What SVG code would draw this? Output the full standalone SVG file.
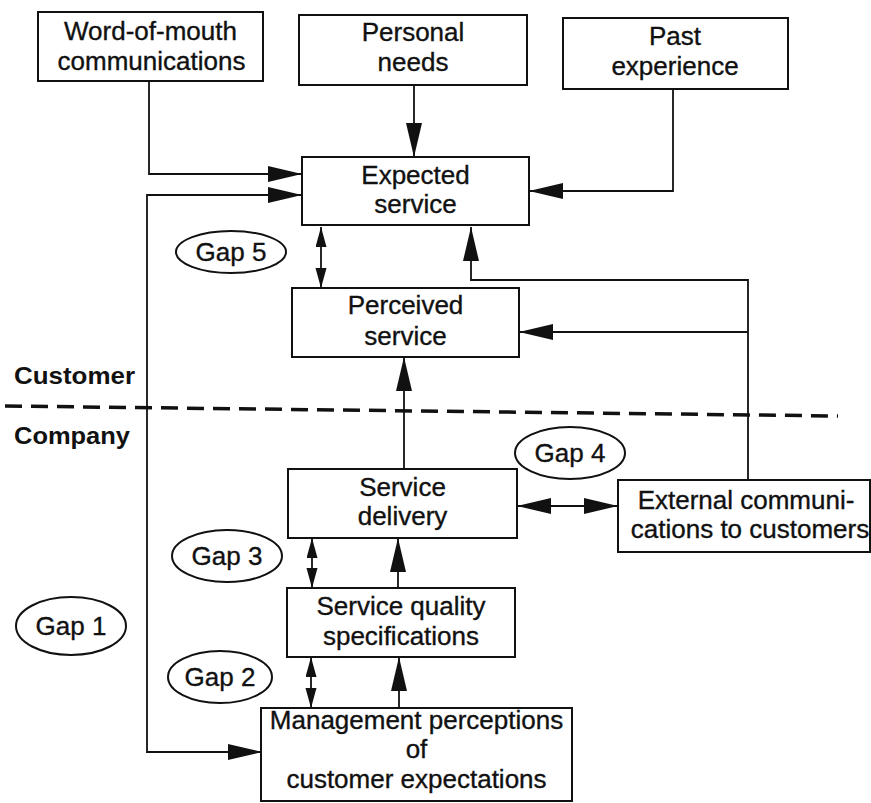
<svg xmlns="http://www.w3.org/2000/svg" width="871" height="803" viewBox="0 0 871 803">
  <style>
    .box { fill: #fff; stroke: #111; stroke-width: 2; }
    .gap { fill: #fff; stroke: #111; stroke-width: 2; }
    .lbl { font-family: "Liberation Sans", Arial, sans-serif; font-size: 26px; fill: #111; stroke: #111; stroke-width: 0.35; text-anchor: middle; }
    .glbl { font-family: "Liberation Sans", Arial, sans-serif; font-size: 26px; fill: #111; stroke: #111; stroke-width: 0.35; text-anchor: middle; }
    .side { font-family: "Liberation Sans", Arial, sans-serif; font-size: 24px; font-weight: bold; fill: #111; }
    .wire { fill: none; stroke: #111; stroke-width: 1.8; }
    .big { marker-end: url(#head); }
    .both { marker-start: url(#head); marker-end: url(#head); }
    .twin { marker-start: url(#tip); marker-end: url(#tip); }
    .divider { fill: none; stroke: #111; stroke-width: 3.5; stroke-dasharray: 17 9; }
  </style>
  <defs>
    <marker id="head" markerUnits="userSpaceOnUse" markerWidth="36" markerHeight="18" refX="34" refY="8" orient="auto-start-reverse" viewBox="0 0 36 18">
      <path d="M0,0 L34,8 L0,16 Z" fill="#111"/>
    </marker>
    <marker id="tip" markerUnits="userSpaceOnUse" markerWidth="22" markerHeight="12" refX="20" refY="5.5" orient="auto-start-reverse" viewBox="0 0 22 12">
      <path d="M0,0 L20,5.5 L0,11 Z" fill="#111"/>
    </marker>
  </defs>

  <rect width="871" height="803" fill="#fff"/>

  <!-- customer / company divide -->
  <path class="divider" d="M5,406 L838,416"/>
  <text class="side" x="14" y="384" textLength="121" lengthAdjust="spacingAndGlyphs">Customer</text>
  <text class="side" x="14" y="444" textLength="116" lengthAdjust="spacingAndGlyphs">Company</text>

  <g id="connectors">
    <path class="wire big" d="M149,81 V174 H302"/>
    <path class="wire both" d="M302,195 H147 V752 H262"/>
    <path class="wire big" d="M414,85 V157"/>
    <path class="wire big" d="M673,89 V191 H529"/>
    <path class="wire big" d="M748,480 V280 H471 V227"/>
    <path class="wire big" d="M748,332 H519"/>
    <path class="wire twin" d="M321,227 V288"/>
    <path class="wire big" d="M404,469 V357"/>
    <path class="wire both" d="M517,506 H618"/>
    <path class="wire twin" d="M312,538 V588"/>
    <path class="wire big" d="M398,588 V538"/>
    <path class="wire twin" d="M311,657 V708"/>
    <path class="wire big" d="M399,708 V657"/>
  </g>

  <g id="word-of-mouth">
    <rect class="box" x="38" y="12" width="225" height="69"/>
    <text class="lbl" x="150.5" y="40">Word-of-mouth</text>
    <text class="lbl" x="151.5" y="70">communications</text>
  </g>
  <g id="personal-needs">
    <rect class="box" x="299" y="15" width="228" height="70"/>
    <text class="lbl" x="413" y="41">Personal</text>
    <text class="lbl" x="413" y="71">needs</text>
  </g>
  <g id="past-experience">
    <rect class="box" x="563" y="18" width="225" height="71"/>
    <text class="lbl" x="675" y="45">Past</text>
    <text class="lbl" x="675" y="75">experience</text>
  </g>
  <g id="expected-service">
    <rect class="box" x="302" y="157" width="227" height="68"/>
    <text class="lbl" x="415.5" y="184">Expected</text>
    <text class="lbl" x="415.5" y="213">service</text>
  </g>
  <g id="perceived-service">
    <rect class="box" x="292" y="288" width="227" height="69"/>
    <text class="lbl" x="405.5" y="314">Perceived</text>
    <text class="lbl" x="405.5" y="345">service</text>
  </g>
  <g id="service-delivery">
    <rect class="box" x="288" y="469" width="229" height="69"/>
    <text class="lbl" x="402.5" y="496">Service</text>
    <text class="lbl" x="402.5" y="525">delivery</text>
  </g>
  <g id="external-communications">
    <rect class="box" x="618" y="480" width="252" height="72"/>
    <text class="lbl" x="746" y="509">External communi-</text>
    <text class="lbl" x="750" y="538">cations to customers</text>
  </g>
  <g id="service-quality-specifications">
    <rect class="box" x="287" y="588" width="228" height="69"/>
    <text class="lbl" x="401" y="615">Service quality</text>
    <text class="lbl" x="401" y="645">specifications</text>
  </g>
  <g id="management-perceptions">
    <rect class="box" x="261" y="708" width="311" height="93"/>
    <text class="lbl" x="416.5" y="729">Management perceptions</text>
    <text class="lbl" x="416.5" y="758">of</text>
    <text class="lbl" x="416.5" y="788">customer expectations</text>
  </g>

  <g id="gap-5">
    <ellipse class="gap" cx="231" cy="252" rx="55" ry="21"/>
    <text class="glbl" x="231" y="261">Gap 5</text>
  </g>
  <g id="gap-4">
    <ellipse class="gap" cx="570" cy="453" rx="55" ry="26"/>
    <text class="glbl" x="570" y="462">Gap 4</text>
  </g>
  <g id="gap-3">
    <ellipse class="gap" cx="227" cy="556" rx="55" ry="26"/>
    <text class="glbl" x="227" y="565">Gap 3</text>
  </g>
  <g id="gap-2">
    <ellipse class="gap" cx="220" cy="677" rx="52" ry="26"/>
    <text class="glbl" x="220" y="686">Gap 2</text>
  </g>
  <g id="gap-1">
    <ellipse class="gap" cx="71" cy="626" rx="55" ry="29"/>
    <text class="glbl" x="71" y="635">Gap 1</text>
  </g>
</svg>
